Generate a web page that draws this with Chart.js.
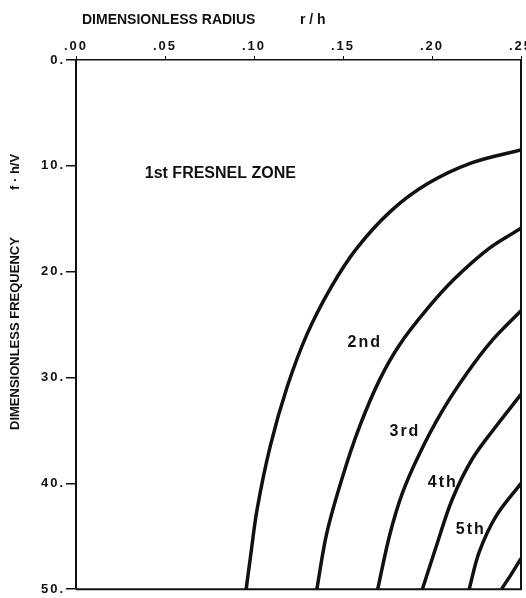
<!DOCTYPE html>
<html>
<head>
<meta charset="utf-8">
<script src="https://cdn.jsdelivr.net/npm/chart.js@4.4.1/dist/chart.umd.min.js"></script>
<style>
  html, body { margin: 0; padding: 0; background: #fff; }
  #wrap { width: 526px; height: 598px; position: relative; }
</style>
</head>
<body>
<div id="wrap"><canvas id="fresnelChart"></canvas></div>
<script>
// zone boundaries, r/h against f*h/V
const zone1Radius = [0.0956, 0.0979, 0.1018, 0.1091, 0.1186, 0.1298, 0.1432, 0.1577, 0.1767, 0.1974, 0.2226, 0.250];
const zone1Freq   = [50, 47.1, 42.4, 36.5, 30.9, 25.9, 21.5, 17.8, 14.3, 11.7, 9.7, 8.5];
const zone2Radius = [0.1353, 0.1409, 0.1499, 0.1594, 0.1706, 0.1818, 0.1974, 0.2125, 0.2321, 0.250];
const zone2Freq   = [50, 44.7, 39.3, 34.6, 30.2, 26.9, 23.5, 20.7, 17.8, 15.9];
const zone3Radius = [0.1695, 0.1762, 0.1834, 0.1930, 0.2053, 0.2192, 0.2338, 0.250];
const zone3Freq   = [50, 44.9, 40.9, 37.2, 33.3, 29.7, 26.5, 23.7];
const zone4Radius = [0.1946, 0.2025, 0.2114, 0.2226, 0.2360, 0.250];
const zone4Freq   = [50, 45.9, 41.5, 37.7, 34.6, 31.6];
const zone5Radius = [0.2209, 0.2265, 0.2360, 0.250];
const zone5Freq   = [50, 46.5, 43.1, 40.0];
const zone6Radius = [0.2390, 0.2445, 0.250];
const zone6Freq   = [50, 48.6, 47.1];

const zoneLabels = ['1st FRESNEL ZONE', '2nd', '3rd', '4th', '5th'];
const labelRadius = [0.0811, 0.1622, 0.1848, 0.2061, 0.2218];
const labelFreq = [10.7, 26.7, 35.1, 39.9, 44.4];

const radiusTicks = [0, 0.05, 0.10, 0.15, 0.20, 0.25];
const freqTicks = [0, 10, 20, 30, 40, 50];

const ink = '#111';
const fontFamily = '"Liberation Sans", Arial, Helvetica, sans-serif';

function zoneData(rs, fs) {
  return rs.map((r, i) => ({ x: r, y: fs[i] }));
}

const zones = [
  [zone1Radius, zone1Freq],
  [zone2Radius, zone2Freq],
  [zone3Radius, zone3Freq],
  [zone4Radius, zone4Freq],
  [zone5Radius, zone5Freq],
  [zone6Radius, zone6Freq]
];

const datasets = zones.map(([rs, fs]) => ({
  data: zoneData(rs, fs),
  borderColor: ink,
  borderWidth: 3.5,
  pointRadius: 0,
  fill: false,
  tension: 0.35
}));

// titles, zone labels and the right/bottom frame lines
const annotate = {
  id: 'annotate',
  beforeLayout(chart) { chart.ctx.letterSpacing = '2px'; },
  beforeDraw(chart) { chart.ctx.letterSpacing = '2px'; },
  afterDraw(chart) {
    const { ctx, chartArea: a, scales: { x, y } } = chart;
    ctx.save();
    ctx.letterSpacing = '0px';
    ctx.strokeStyle = ink;
    ctx.lineWidth = 2;
    ctx.beginPath();
    ctx.moveTo(a.right, a.top);
    ctx.lineTo(a.right, a.bottom);
    ctx.lineTo(a.left, a.bottom);
    ctx.stroke();

    ctx.fillStyle = ink;
    ctx.textBaseline = 'middle';
    ctx.textAlign = 'left';
    ctx.font = 'bold 14px ' + fontFamily;
    ctx.fillText('DIMENSIONLESS RADIUS', 82, 20);
    ctx.fillText('r / h', 300, 20);

    ctx.save();
    ctx.translate(15, 430);
    ctx.rotate(-Math.PI / 2);
    ctx.font = 'bold 13px ' + fontFamily;
    ctx.fillText('DIMENSIONLESS FREQUENCY', 0, 0);
    ctx.fillText('f \u00b7 h/V', 240, 0);
    ctx.restore();

    ctx.textAlign = 'center';
    ctx.font = 'bold 16px ' + fontFamily;
    zoneLabels.forEach((t, i) => {
      ctx.letterSpacing = i === 0 ? '0px' : '2px';
      ctx.fillText(t, x.getPixelForValue(labelRadius[i]), y.getPixelForValue(labelFreq[i]));
    });
    ctx.restore();
  }
};

new Chart(document.getElementById('fresnelChart'), {
  type: 'line',
  data: { datasets },
  options: {
    responsive: true,
    maintainAspectRatio: false,
    animation: false,
    layout: { padding: { left: 0, right: 0, top: 0, bottom: 4 } },
    plugins: {
      legend: { display: false },
      tooltip: { enabled: false }
    },
    scales: {
      x: {
        type: 'linear',
        position: 'top',
        min: 0,
        max: 0.25,
        afterBuildTicks(scale) { scale.ticks = radiusTicks.map(v => ({ value: v })); },
        afterFit(scale) {
          scale.height = 60;
          scale.paddingLeft = 0;
          scale.paddingRight = 5;
        },
        ticks: {
          color: ink,
          padding: 2,
          maxRotation: 0,
          font: { family: fontFamily, size: 13, weight: 'bold' },
          callback: v => v.toFixed(2).replace(/^0/, '')
        },
        grid: { drawOnChartArea: false, color: ink, lineWidth: 1, tickLength: 4 },
        border: { color: ink, width: 1.5 }
      },
      y: {
        type: 'linear',
        reverse: true,
        min: 0,
        max: 50,
        afterBuildTicks(scale) { scale.ticks = freqTicks.map(v => ({ value: v })); },
        afterFit(scale) { scale.width = 76; },
        ticks: {
          color: ink,
          padding: 1,
          font: { family: fontFamily, size: 13, weight: 'bold' },
          callback: v => v + '.'
        },
        grid: { drawOnChartArea: false, color: ink, lineWidth: 1.5, tickLength: 10 },
        border: { color: ink, width: 2 }
      }
    }
  },
  plugins: [annotate]
});
</script>
</body>
</html>
